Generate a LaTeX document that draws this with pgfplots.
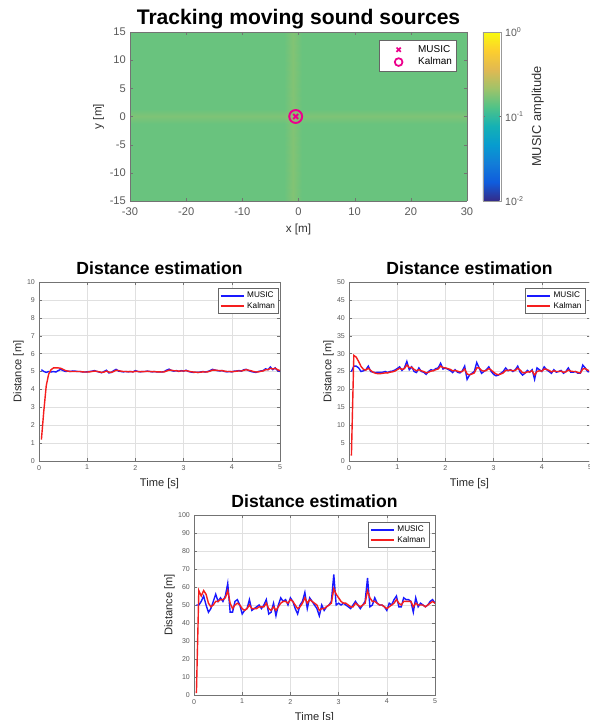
\documentclass[border=0pt]{standalone}
\usepackage{fontspec}
\setmainfont{Liberation Sans}
\usepackage{pgfplots}
\usepackage{pgfplotstable}
\pgfplotsset{compat=1.18}

\pgfplotsset{colormap={parula}{rgb255=(53,42,135) rgb255=(15,92,221) rgb255=(18,125,216) rgb255=(7,156,207) rgb255=(21,177,180) rgb255=(80,195,135) rgb255=(160,195,105) rgb255=(225,185,82) rgb255=(252,206,46) rgb255=(249,251,14)}}

\definecolor{mblue}{RGB}{25,25,255}
\definecolor{mred}{RGB}{245,30,30}

% distance estimates, target at 5 m
\pgfplotstableread{
t music kalman
0.05 5.10 1.20
0.10 5.00 2.80
0.15 4.95 4.20
0.20 5.00 4.85
0.25 4.97 5.10
0.30 5.00 5.20
0.35 4.97 5.20
0.40 5.05 5.20
0.45 5.12 5.18
0.50 5.05 5.12
0.55 5.00 5.05
0.60 5.02 5.02
0.65 5.00 5.00
0.70 5.03 5.00
0.75 5.02 5.00
0.80 5.00 5.00
0.85 5.00 5.00
0.90 4.98 4.98
0.95 4.97 4.97
1.00 4.98 4.97
1.05 5.00 4.98
1.10 5.02 5.00
1.15 5.05 5.02
1.20 5.00 5.01
1.25 4.97 4.98
1.30 4.93 4.95
1.35 5.00 4.97
1.40 5.07 5.02
1.45 4.92 4.97
1.50 4.95 4.95
1.55 5.05 5.00
1.60 5.12 5.07
1.65 5.02 5.05
1.70 5.00 5.02
1.75 4.98 5.00
1.80 5.00 5.00
1.85 4.98 4.99
1.90 5.00 4.99
1.95 4.98 4.98
2.00 5.05 5.01
2.05 5.00 5.00
2.10 4.98 4.99
2.15 5.00 4.99
2.20 5.00 5.00
2.25 5.02 5.01
2.30 5.00 5.00
2.35 4.98 4.99
2.40 5.00 4.99
2.45 4.97 4.98
2.50 4.98 4.98
2.55 4.97 4.97
2.60 5.00 4.98
2.65 5.08 5.03
2.70 5.13 5.08
2.75 5.05 5.07
2.80 5.02 5.04
2.85 5.05 5.04
2.90 5.00 5.02
2.95 5.05 5.03
3.00 5.02 5.03
3.05 5.07 5.05
3.10 5.00 5.02
3.15 4.97 4.99
3.20 4.95 4.97
3.25 4.96 4.96
3.30 4.95 4.95
3.35 4.97 4.96
3.40 5.00 4.98
3.45 4.97 4.97
3.50 5.00 4.98
3.55 5.05 5.02
3.60 5.12 5.08
3.65 5.08 5.08
3.70 5.05 5.06
3.75 5.03 5.05
3.80 5.05 5.05
3.85 5.00 5.02
3.90 4.98 5.00
3.95 5.00 5.00
4.00 4.98 4.99
4.05 5.02 5.00
4.10 5.03 5.02
4.15 5.05 5.03
4.20 5.02 5.03
4.25 5.10 5.07
4.30 5.12 5.10
4.35 5.05 5.07
4.40 5.00 5.04
4.45 4.97 5.00
4.50 4.95 4.97
4.55 5.00 4.98
4.60 5.03 5.01
4.65 5.05 5.03
4.70 5.15 5.10
4.75 5.10 5.10
4.80 5.25 5.18
4.85 5.10 5.14
4.90 5.20 5.18
4.95 5.05 5.10
5.00 5.00 5.05
}\dfive

% target at 25 m
\pgfplotstableread{
t music kalman
0.05 25.0 1.5
0.10 26.5 29.5
0.15 26.5 29.0
0.20 26.0 27.8
0.25 25.0 26.4
0.30 25.2 25.6
0.35 25.5 25.4
0.40 26.5 25.9
0.45 25.0 25.3
0.50 24.8 24.8
0.55 24.7 24.5
0.60 24.8 24.4
0.65 24.8 24.4
0.70 24.8 24.5
0.75 25.0 24.6
0.80 24.7 24.6
0.85 25.0 24.8
0.90 25.1 24.9
0.95 25.4 25.1
1.00 25.8 25.5
1.05 26.3 25.9
1.10 25.3 25.6
1.15 26.0 25.8
1.20 27.8 26.8
1.25 25.5 26.1
1.30 26.3 26.2
1.35 25.0 25.6
1.40 24.7 25.2
1.45 26.0 25.5
1.50 25.0 25.2
1.55 24.8 25.0
1.60 24.2 24.6
1.65 25.0 24.8
1.70 25.5 25.1
1.75 25.3 25.2
1.80 25.8 25.5
1.85 26.0 25.7
1.90 27.3 26.5
1.95 25.7 26.1
2.00 26.0 26.0
2.05 25.6 25.8
2.10 25.3 25.6
2.15 24.7 25.2
2.20 25.5 25.3
2.25 24.8 25.1
2.30 24.6 24.9
2.35 25.2 25.0
2.40 26.5 25.7
2.45 22.8 24.3
2.50 24.0 24.1
2.55 24.5 24.3
2.60 25.0 24.6
2.65 27.5 26.0
2.70 26.0 26.0
2.75 24.5 25.3
2.80 25.0 25.1
2.85 25.5 25.3
2.90 26.3 25.8
2.95 25.0 25.4
3.00 24.2 24.8
3.05 23.8 24.3
3.10 24.0 24.1
3.15 24.5 24.3
3.20 25.0 24.6
3.25 26.0 25.3
3.30 25.2 25.3
3.35 25.5 25.4
3.40 25.0 25.2
3.45 25.5 25.3
3.50 26.5 25.9
3.55 24.8 25.4
3.60 24.0 24.7
3.65 24.5 24.6
3.70 25.3 24.9
3.75 24.8 24.9
3.80 25.5 25.2
3.85 22.8 24.0
3.90 26.0 25.0
3.95 25.5 25.2
4.00 25.0 25.1
4.05 26.3 25.7
4.10 25.5 25.6
4.15 25.0 25.3
4.20 24.5 24.9
4.25 25.5 25.2
4.30 24.8 25.0
4.35 25.0 25.0
4.40 25.3 25.1
4.45 24.5 24.8
4.50 25.0 24.9
4.55 26.0 25.4
4.60 24.8 25.1
4.65 24.8 25.0
4.70 25.0 25.0
4.75 24.5 24.7
4.80 24.5 24.6
4.85 26.8 25.7
4.90 26.0 25.8
4.95 25.0 25.4
5.00 24.8 25.1
}\dtwentyfive

% target at 50 m
\pgfplotstableread{
t music kalman
0.05 50 1
0.10 50 58
0.15 52 55
0.20 55 58
0.25 50 56
0.30 46 51
0.35 48 49
0.40 52 50
0.45 56 52
0.50 52 52
0.55 54 53
0.60 52 53
0.65 55 54
0.70 62 58
0.75 46 51
0.80 46 48
0.85 52 50
0.90 53 51
0.95 50 50
1.00 45 48
1.05 47 47
1.10 48 48
1.15 53 50
1.20 47 48
1.25 48 48
1.30 49 48
1.35 50 49
1.40 48 49
1.45 50 49
1.50 53 51
1.55 45 48
1.60 46 47
1.65 51 49
1.70 44 47
1.75 50 49
1.80 54 51
1.85 52 52
1.90 53 52
1.95 50 51
2.00 54 53
2.05 52 52
2.10 48 50
2.15 45 48
2.20 50 49
2.25 52 51
2.30 57 54
2.35 48 51
2.40 54 53
2.45 52 52
2.50 50 51
2.55 48 50
2.60 44 47
2.65 50 48
2.70 47 48
2.75 49 49
2.80 50 50
2.85 52 51
2.90 67 59
2.95 50 56
3.00 51 54
3.05 50 52
3.10 51 51
3.15 50 51
3.20 49 50
3.25 48 49
3.30 50 49
3.35 52 51
3.40 50 50
3.45 48 49
3.50 50 50
3.55 52 51
3.60 65 58
3.65 49 54
3.70 50 52
3.75 54 52
3.80 51 51
3.85 50 50
3.90 50 50
3.95 49 49
4.00 47 48
4.05 51 49
4.10 50 50
4.15 53 51
4.20 55 53
4.25 49 51
4.30 49 50
4.35 54 52
4.40 53 52
4.45 53 52
4.50 52 52
4.55 46 49
4.60 54 51
4.65 49 50
4.70 51 50
4.75 50 50
4.80 49 49
4.85 50 50
4.90 52 51
4.95 53 52
5.00 51 51
}\dfifty

% MUSIC map, log10 amplitude (coarse grid)
\pgfplotstableread{
x y c
-30 -15 -0.82
-2.6 -15 -0.82
-1.0 -15 -0.75
0.6 -15 -0.82
30 -15 -0.82

-30 -1.3 -0.82
-2.6 -1.3 -0.82
-1.0 -1.3 -0.75
0.6 -1.3 -0.82
30 -1.3 -0.82

-30 0 -0.76
-2.6 0 -0.76
-1.0 0 -0.71
0.6 0 -0.76
30 0 -0.76

-30 1.3 -0.82
-2.6 1.3 -0.82
-1.0 1.3 -0.75
0.6 1.3 -0.82
30 1.3 -0.82

-30 15 -0.82
-2.6 15 -0.82
-1.0 15 -0.75
0.6 15 -0.82
30 15 -0.82
}\musicmap

\pgfplotsset{
  mlab/.style={
    scale only axis,
    tick align=inside,
    major tick length=2.5pt,
    axis line style={black!55},
    tick style={black!55},
    /pgf/number format/assume math mode=true,
    legend cell align=left,
  },
  distplot/.style={
    mlab,
    width=7.23cm,
    xmin=0, xmax=5, ymin=0,
    xtick={0,1,2,3,4,5},
    grid=major,
    major grid style={black!12},
    tick label style={font=\fontsize{6}{7}\selectfont, text=black!65},
    label style={font=\fontsize{9.5}{11}\selectfont, text=black!85},
    ylabel style={yshift=-4pt},
    title style={font=\bfseries\fontsize{15}{17}\selectfont, yshift=-3pt},
    title={Distance estimation},
    xlabel={Time [s]},
    ylabel={Distance [m]},
    legend style={font=\fontsize{7}{8}\selectfont, at={(0.985,0.965)}, anchor=north east,
      draw=black!60, inner sep=1pt, row sep=-1.5pt},
    legend image code/.code={\draw[#1, line width=1.6pt] (0cm,0cm) -- (0.7cm,0cm);},
  },
}

\begin{document}
\begin{tikzpicture}
\useasboundingbox (0,0) rectangle (17.67,21.6);
\clip (0,0) rectangle (17.67,21.6);

% map
\begin{axis}[mlab,
  at={(3.9cm,15.57cm)}, anchor=south west,
  width=10.11cm, height=5.07cm,
  view={0}{90},
  xmin=-30, xmax=30, ymin=-15, ymax=15,
  xtick={-30,-20,...,30}, ytick={-15,-10,...,15},
  axis on top,
  tick label style={font=\fontsize{9.5}{11}\selectfont, text=black!65},
  xticklabel style={yshift=-2.5pt},
  label style={font=\fontsize{10}{12}\selectfont, text=black!80},
  ylabel style={yshift=-2pt},
  xlabel={x [m]}, ylabel={y [m]},
  title={Tracking moving sound sources},
  title style={font=\bfseries\fontsize{18}{20}\selectfont, yshift=-7pt},
  colormap name=parula,
  point meta min=-2, point meta max=0,
  colorbar,
  colorbar style={
    scale only axis,
    at={(parent axis.north east)}, anchor=north west, xshift=0.18cm,
    width=0.54cm, height=5.07cm,
    ytick={-2,-1,0},
    yticklabels={10\textsuperscript{-2},10\textsuperscript{-1},10\textsuperscript{0}},
    tick label style={font=\fontsize{9}{11}\selectfont, text=black!65},
    ylabel={MUSIC amplitude},
    ylabel style={font=\fontsize{11}{13}\selectfont, text=black!80},
    axis line style={black!40},
    major tick length=2pt,
  },
  legend style={font=\fontsize{8.5}{10}\selectfont, at={(0.97,0.95)}, anchor=north east,
    draw=black!60, inner sep=2pt, row sep=-1pt},
  legend image code/.code={\path (0cm,0cm) (0.99cm,0cm); \draw[#1] plot coordinates {(0.5cm,0cm)};},
]
\addplot3[surf, shader=interp, mesh/rows=5, point meta=\thisrow{c}, forget plot]
  table[x=x, y=y, z=c] {\musicmap};
\addplot3[only marks, mark=x, mark size=3pt, line width=1.6pt, color=magenta, forget plot]
  coordinates {(-0.5,0,0)};
\addplot3[only marks, mark=o, mark size=5.5pt, line width=1.7pt, color=magenta, forget plot]
  coordinates {(-0.5,0,0)};
\addlegendimage{only marks, mark=x, mark size=2.6pt, line width=1.4pt, color=magenta}
\addlegendentry{MUSIC}
\addlegendimage{only marks, mark=o, mark size=3.3pt, line width=1.5pt, color=magenta}
\addlegendentry{Kalman}
\end{axis}

% 5 m
\begin{axis}[distplot,
  at={(1.17cm,7.77cm)}, anchor=south west,
  height=5.37cm, ymax=10, ytick={0,1,...,10},
  legend style={at={(0.995,0.965)}},
]
\addplot[color=mblue, line width=1.2pt] table[x=t, y=music] {\dfive};
\addlegendentry{MUSIC}
\addplot[color=mred, line width=1.2pt] table[x=t, y=kalman] {\dfive};
\addlegendentry{Kalman}
\end{axis}

% 25 m
\begin{axis}[distplot,
  at={(10.47cm,7.77cm)}, anchor=south west,
  height=5.37cm, ymax=50, ytick={0,5,...,50},
  legend style={at={(0.98,0.965)}},
]
\addplot[color=mblue, line width=1.2pt] table[x=t, y=music] {\dtwentyfive};
\addlegendentry{MUSIC}
\addplot[color=mred, line width=1.2pt] table[x=t, y=kalman] {\dtwentyfive};
\addlegendentry{Kalman}
\end{axis}

% 50 m
\begin{axis}[distplot,
  at={(5.82cm,0.75cm)}, anchor=south west,
  height=5.4cm, ymax=100, ytick={0,10,...,100},
  legend style={at={(0.975,0.96)}},
]
\addplot[color=mblue, line width=1.2pt] table[x=t, y=music] {\dfifty};
\addlegendentry{MUSIC}
\addplot[color=mred, line width=1.2pt] table[x=t, y=kalman] {\dfifty};
\addlegendentry{Kalman}
\end{axis}
\end{tikzpicture}
\end{document}
